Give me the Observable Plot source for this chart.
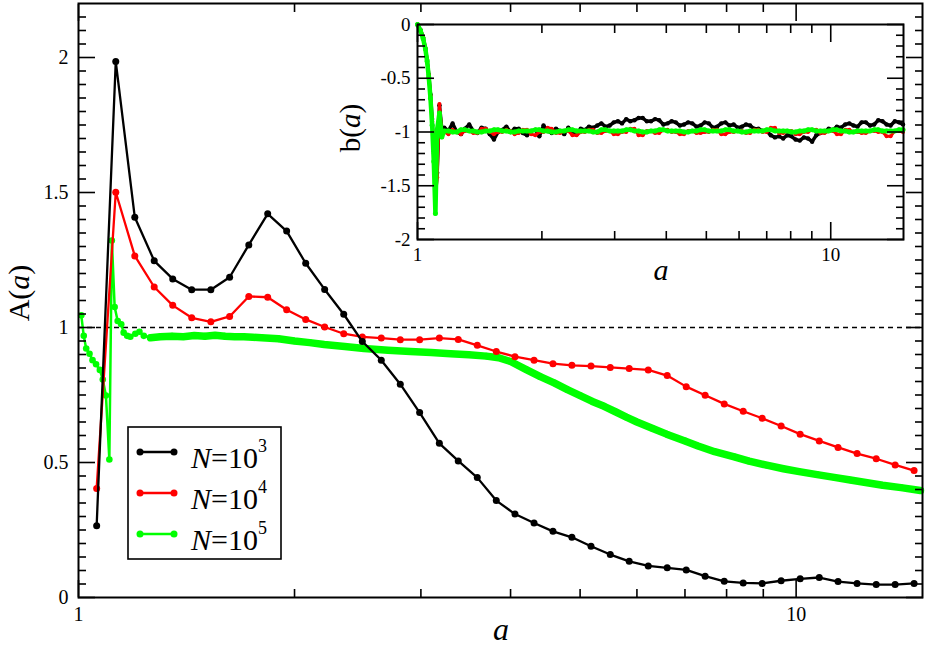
<!DOCTYPE html>
<html>
<head>
<meta charset="utf-8">
<script src="https://cdn.jsdelivr.net/npm/d3@7"></script>
<script src="https://cdn.jsdelivr.net/npm/@observablehq/plot@0.6"></script>
<style>
  body { margin: 0; background: #fff; }
  #wrap { position: relative; width: 928px; height: 649px; font-family: 'Times New Roman', Times, 'Liberation Serif', Tinos, 'Noto Serif', 'DejaVu Serif', FreeSerif, serif; }
  #wrap svg { position: absolute; overflow: visible; }
  #wrap svg text, #wrap svg tspan { font-family: 'Times New Roman', Times, 'Liberation Serif', Tinos, 'Noto Serif', 'DejaVu Serif', FreeSerif, serif !important; }
</style>
</head>
<body>
<div id="wrap"></div>
<script>
// ---------- main chart data: A(a) ----------
const aGrid = [1.06, 1.127, 1.198, 1.275, 1.353, 1.438, 1.529, 1.624, 1.727, 1.835, 1.95, 2.073, 2.203, 2.342, 2.486, 2.642, 2.808, 2.988, 3.183, 3.382, 3.595, 3.821, 4.057, 4.313, 4.583, 4.87, 5.178, 5.508, 5.853, 6.222, 6.612, 7.028, 7.468, 7.94, 8.438, 8.968, 9.53, 10.13, 10.77, 11.44, 12.16, 12.93, 13.74, 14.6];
const blackA = [0.266, 1.985, 1.408, 1.247, 1.18, 1.14, 1.14, 1.186, 1.306, 1.421, 1.357, 1.238, 1.141, 1.049, 0.948, 0.879, 0.79, 0.685, 0.571, 0.506, 0.444, 0.359, 0.309, 0.276, 0.245, 0.223, 0.19, 0.159, 0.134, 0.117, 0.11, 0.102, 0.079, 0.06, 0.054, 0.052, 0.062, 0.069, 0.074, 0.059, 0.052, 0.048, 0.048, 0.052];
const redA = [0.404, 1.501, 1.265, 1.15, 1.082, 1.036, 1.021, 1.041, 1.115, 1.112, 1.066, 1.03, 1.002, 0.977, 0.965, 0.961, 0.955, 0.955, 0.961, 0.956, 0.934, 0.911, 0.892, 0.879, 0.866, 0.86, 0.857, 0.852, 0.848, 0.843, 0.822, 0.781, 0.749, 0.717, 0.69, 0.664, 0.635, 0.605, 0.58, 0.556, 0.533, 0.514, 0.491, 0.47];
const greenX = [1.009, 1.017, 1.025, 1.036, 1.046, 1.058, 1.071, 1.081, 1.092, 1.104, 1.113, 1.123, 1.134, 1.147, 1.156, 1.169, 1.181, 1.2, 1.216, 1.233, 1.26, 1.3, 1.35, 1.4, 1.45, 1.5, 1.55, 1.6, 1.65, 1.7, 1.75, 1.8, 1.9, 2.0, 2.1, 2.2, 2.35, 2.5, 2.7, 2.9, 3.1, 3.3, 3.5, 3.7, 3.85, 4.0, 4.2, 4.4, 4.6, 4.8, 5.0, 5.2, 5.4, 5.6, 5.8, 6.0, 6.3, 6.6, 7.0, 7.3, 7.7, 8.2, 8.6, 9.1, 9.6, 10.1, 10.7, 11.3, 11.9, 12.5, 13.2, 14.0, 14.9];
const greenA = [1.045, 0.969, 0.922, 0.903, 0.879, 0.864, 0.843, 0.807, 0.748, 0.511, 1.322, 1.076, 1.024, 1.012, 0.981, 0.969, 0.966, 0.977, 0.984, 0.969, 0.962, 0.966, 0.968, 0.966, 0.97, 0.968, 0.971, 0.968, 0.966, 0.966, 0.964, 0.962, 0.958, 0.95, 0.944, 0.937, 0.93, 0.922, 0.916, 0.911, 0.907, 0.903, 0.899, 0.894, 0.888, 0.874, 0.845, 0.818, 0.795, 0.77, 0.748, 0.726, 0.708, 0.688, 0.668, 0.65, 0.627, 0.605, 0.58, 0.561, 0.54, 0.521, 0.505, 0.49, 0.477, 0.466, 0.455, 0.445, 0.435, 0.426, 0.416, 0.407, 0.396];

// ---------- inset data: b(a) ----------
const insetEarlyX = [1.0, 1.017, 1.032, 1.045, 1.055, 1.065, 1.075, 1.085, 1.095, 1.105, 1.116, 1.13, 1.145];
const blackEarly = [0, -0.05, -0.12, -0.22, -0.33, -0.47, -0.65, -0.88, -1.18, -1.6, -1.38, -0.75, -0.97];
const redEarly   = [0, -0.05, -0.12, -0.22, -0.33, -0.47, -0.66, -0.9, -1.2, -1.6, -1.42, -0.74, -1.0];
const greenEarly = [0, -0.058, -0.132, -0.229, -0.341, -0.493, -0.686, -0.937, -1.275, -1.758, -0.976, -0.824, -1.047];
const insetX = [1.161, 1.188, 1.216, 1.245, 1.274, 1.303, 1.334, 1.365, 1.396, 1.429, 1.462, 1.496, 1.531, 1.567, 1.603, 1.641, 1.679, 1.718, 1.758, 1.799, 1.841, 1.884, 1.928, 1.972, 2.018, 2.065, 2.113, 2.163, 2.213, 2.265, 2.317, 2.371, 2.427, 2.483, 2.541, 2.6, 2.661, 2.723, 2.786, 2.851, 2.917, 2.985, 3.055, 3.126, 3.199, 3.273, 3.35, 3.428, 3.508, 3.589, 3.673, 3.758, 3.846, 3.936, 4.027, 4.121, 4.217, 4.315, 4.416, 4.519, 4.624, 4.732, 4.842, 4.955, 5.07, 5.188, 5.309, 5.433, 5.559, 5.689, 5.821, 5.957, 6.095, 6.237, 6.383, 6.531, 6.683, 6.839, 6.998, 7.161, 7.328, 7.499, 7.674, 7.852, 8.035, 8.222, 8.414, 8.61, 8.81, 9.016, 9.226, 9.441, 9.661, 9.886, 10.12, 10.35, 10.59, 10.84, 11.09, 11.35, 11.61, 11.88, 12.16, 12.45, 12.74, 13.03, 13.34, 13.65, 13.96, 14.29, 14.62, 14.96];
const blackB = [-0.96, -0.99, -0.92, -1.0, -1.02, -0.97, -0.93, -0.99, -1.01, -0.96, -0.97, -1.02, -1.07, -1.0, -0.98, -0.95, -1.0, -0.97, -0.97, -1.01, -1.03, -0.99, -0.98, -1.04, -0.94, -0.99, -1.01, -0.97, -0.99, -1.02, -0.96, -1.0, -1.02, -0.97, -0.98, -0.95, -0.96, -0.94, -0.92, -0.95, -0.94, -0.91, -0.9, -0.92, -0.88, -0.9, -0.89, -0.87, -0.87, -0.9, -0.9, -0.88, -0.89, -0.93, -0.92, -0.9, -0.91, -0.94, -0.93, -0.91, -0.92, -0.95, -0.94, -0.91, -0.92, -0.96, -0.95, -0.92, -0.91, -0.94, -0.93, -0.96, -0.95, -0.93, -0.94, -0.97, -0.97, -0.99, -0.99, -1.03, -1.05, -1.04, -1.06, -1.03, -1.04, -1.07, -1.08, -1.05, -1.06, -1.09, -1.03, -1.01, -1.0, -0.97, -0.98, -0.95, -0.96, -0.93, -0.92, -0.94, -0.95, -0.91, -0.91, -0.94, -0.93, -0.89, -0.9, -0.93, -0.94, -0.9, -0.91, -0.93];
const redB = [-1.0, -1.02, -0.98, -1.0, -1.02, -0.99, -0.99, -1.01, -1.01, -0.97, -0.97, -1.0, -1.02, -1.0, -1.0, -0.98, -0.99, -1.02, -1.01, -0.98, -0.98, -1.02, -1.03, -1.0, -1.0, -0.96, -0.97, -1.01, -1.01, -0.99, -0.99, -1.03, -1.03, -1.0, -1.0, -0.98, -0.98, -1.01, -1.01, -0.99, -0.99, -1.02, -1.02, -1.0, -1.0, -0.97, -0.97, -1.03, -1.03, -0.99, -0.99, -1.01, -1.01, -0.98, -0.98, -1.0, -1.0, -1.02, -1.02, -0.99, -0.99, -1.01, -1.01, -1.0, -1.0, -0.98, -0.98, -1.02, -1.02, -1.0, -1.0, -0.99, -0.99, -1.01, -1.01, -0.98, -0.98, -1.0, -1.0, -0.96, -0.96, -1.01, -1.01, -0.99, -0.99, -1.02, -1.02, -1.0, -1.0, -0.98, -0.98, -1.01, -1.01, -0.99, -0.99, -1.02, -1.02, -0.98, -0.98, -1.0, -1.0, -1.01, -1.01, -0.99, -0.99, -1.0, -1.0, -1.04, -1.04, -0.99, -0.99, -1.0];
const greenB = [-0.99, -0.99, -1.0, -1.0, -0.98, -0.98, -0.99, -0.99, -1.0, -1.0, -0.99, -0.99, -0.98, -0.98, -0.99, -0.99, -1.0, -1.0, -0.99, -0.99, -0.99, -0.99, -0.98, -0.98, -0.99, -0.99, -1.0, -1.0, -0.99, -0.99, -0.98, -0.98, -0.99, -0.99, -0.99, -0.99, -1.0, -1.0, -0.98, -0.98, -0.99, -0.99, -0.99, -0.99, -0.98, -0.98, -0.99, -0.99, -1.0, -1.0, -0.99, -0.99, -0.98, -0.98, -0.99, -0.99, -0.99, -0.99, -1.0, -1.0, -0.99, -0.99, -0.98, -0.98, -0.99, -0.99, -0.99, -0.99, -0.98, -0.98, -0.99, -0.99, -1.0, -1.0, -0.99, -0.99, -0.99, -0.99, -0.98, -0.98, -0.99, -0.99, -0.99, -0.99, -1.0, -1.0, -0.99, -0.99, -0.98, -0.98, -0.99, -0.99, -0.99, -0.99, -0.98, -0.98, -0.99, -0.99, -1.0, -1.0, -0.99, -0.99, -0.99, -0.99, -0.98, -0.98, -0.99, -0.99, -0.99, -0.99, -0.98, -0.98];

// ---------- ticks & labels ----------
const xMajor = [1, 10];
const xMinor = [2, 3, 4, 5, 6, 7, 8, 9];
const yMajor = [0, 0.5, 1, 1.5, 2];
const yMinor = d3.range(1, 44).map(i => +(i * 0.05).toFixed(2)).filter(v => Math.abs(v * 2 - Math.round(v * 2)) > 1e-9);
const bMajor = [-2, -1.5, -1, -0.5, 0];
const bMinor = d3.range(-19, 0).map(i => +(i * 0.1).toFixed(1)).filter(v => Math.abs(v * 2 - Math.round(v * 2)) > 1e-9);
const legendExp = ["3", "4", "5"];
const colors = ["#000000", "#ff0000", "#00ff00"];
const FONT = "'Times New Roman', Times, 'Liberation Serif', Tinos, 'Noto Serif', 'DejaVu Serif', FreeSerif, serif";

const rows = (xs, ys) => xs.map((a, i) => ({a, v: ys[i]}));
const K = rows(aGrid, blackA), R = rows(aGrid, redA), G = rows(greenX, greenA);

function frameTicks(xMaj, xMin, yMaj, yMin) {
  const fmtNone = () => "";
  const m = [];
  for (const anchor of ["bottom", "top"]) {
    m.push(Plot.axisX(xMaj, {anchor, tickSize: -17, tickFormat: fmtNone, strokeWidth: 1.6, label: null}));
    m.push(Plot.axisX(xMin, {anchor, tickSize: -8, tickFormat: fmtNone, strokeWidth: 1.6, label: null}));
  }
  for (const anchor of ["left", "right"]) {
    m.push(Plot.axisY(yMaj, {anchor, tickSize: -17, tickFormat: fmtNone, strokeWidth: 1.6, label: null}));
    m.push(Plot.axisY(yMin, {anchor, tickSize: -8, tickFormat: fmtNone, strokeWidth: 1.6, label: null}));
  }
  return m;
}

const wrap = document.getElementById("wrap");

// ---------- main plot ----------
const main = Plot.plot({
  width: 928, height: 649,
  marginLeft: 78, marginRight: 6, marginTop: 3, marginBottom: 52,
  x: {type: "log", domain: [1, 15]},
  y: {domain: [0, 2.2]},
  style: {fontFamily: FONT, fontSize: "20px", background: "transparent", color: "#000"},
  marks: [
    Plot.ruleY([1], {stroke: "#000", strokeWidth: 1.3, strokeDasharray: "5,4"}),
    Plot.line(G.filter(d => d.a >= 1.26), {x: "a", y: "v", stroke: colors[2], strokeWidth: 7.5, strokeLinecap: "round", strokeLinejoin: "round"}),
    Plot.line(G, {x: "a", y: "v", stroke: colors[2], strokeWidth: 2.5}),
    Plot.dot(G, {x: "a", y: "v", r: 3.3, fill: colors[2]}),
    Plot.line(R, {x: "a", y: "v", stroke: colors[1], strokeWidth: 2.3}),
    Plot.dot(R, {x: "a", y: "v", r: 3.5, fill: colors[1]}),
    Plot.line(K, {x: "a", y: "v", stroke: colors[0], strokeWidth: 2.3}),
    Plot.dot(K, {x: "a", y: "v", r: 3.5, fill: colors[0]}),
    ...frameTicks(xMajor, xMinor, yMajor, yMinor),
    Plot.axisX(xMajor, {anchor: "bottom", tickSize: 0, tickPadding: 9, tickFormat: d => String(d), fontSize: 20, label: null}),
    Plot.axisY(yMajor, {anchor: "left", tickSize: 0, tickPadding: 10, tickFormat: d => String(d), fontSize: 20, label: null}),
    Plot.frame({stroke: "#000", strokeWidth: 2})
  ]
});
main.style.left = "0px"; main.style.top = "0px";
wrap.appendChild(main);

const ms = d3.select(main);
ms.append("text").attr("transform", "translate(29,293) rotate(-90)")
  .attr("text-anchor", "middle").attr("font-size", 30).attr("fill", "#000")
  .call(t => { t.append("tspan").text("A("); t.append("tspan").attr("font-style", "italic").text("a"); t.append("tspan").text(")"); });
ms.append("text").attr("x", 501).attr("y", 640).attr("text-anchor", "middle")
  .attr("font-size", 32).attr("font-style", "italic").attr("fill", "#000").text("a");

// ---------- inset plot ----------
const IK = rows(insetEarlyX.concat(insetX), blackEarly.concat(blackB));
const IR = rows(insetEarlyX.concat(insetX), redEarly.concat(redB));
const IG = rows(insetEarlyX.concat(insetX), greenEarly.concat(greenB));
const inset = Plot.plot({
  width: 578, height: 280,
  marginLeft: 87, marginRight: 5, marginTop: 16, marginBottom: 49,
  x: {type: "log", domain: [1, 15]},
  y: {domain: [-2, 0]},
  style: {fontFamily: FONT, fontSize: "19px", background: "transparent", color: "#000"},
  marks: [
    Plot.line(IK, {x: "a", y: "v", stroke: colors[0], strokeWidth: 3.5}),
    Plot.dot(IK, {x: "a", y: "v", r: 2.2, fill: colors[0]}),
    Plot.line(IR, {x: "a", y: "v", stroke: colors[1], strokeWidth: 3}),
    Plot.dot(IR, {x: "a", y: "v", r: 2, fill: colors[1]}),
    Plot.line(IG, {x: "a", y: "v", stroke: colors[2], strokeWidth: 4.5}),
    Plot.dot(IG, {x: "a", y: "v", r: 2.5, fill: colors[2]}),
    ...frameTicks(xMajor, xMinor, bMajor, bMinor),
    Plot.axisX(xMajor, {anchor: "bottom", tickSize: 0, tickPadding: 8, tickFormat: d => String(d), fontSize: 19, label: null}),
    Plot.axisY(bMajor, {anchor: "left", tickSize: 0, tickPadding: 7, tickFormat: d => String(d), fontSize: 19, label: null}),
    Plot.frame({stroke: "#000", strokeWidth: 2})
  ]
});
inset.style.left = "330px"; inset.style.top = "8px";
wrap.appendChild(inset);
const is = d3.select(inset);
is.append("text").attr("transform", "translate(30,120) rotate(-90)")
  .attr("text-anchor", "middle").attr("font-size", 29).attr("fill", "#000")
  .call(t => { t.append("tspan").text("b("); t.append("tspan").attr("font-style", "italic").text("a"); t.append("tspan").text(")"); });
is.append("text").attr("x", 331).attr("y", 272).attr("text-anchor", "middle")
  .attr("font-size", 30).attr("font-style", "italic").attr("fill", "#000").text("a");

// ---------- legend ----------
const leg = d3.create("svg").attr("width", 156).attr("height", 136)
  .style("left", "127px").style("top", "426px").attr("font-family", FONT);
leg.append("rect").attr("x", 1).attr("y", 1).attr("width", 153).attr("height", 132)
  .attr("fill", "#fff").attr("stroke", "#000").attr("stroke-width", 1.6);
legendExp.forEach((e, i) => {
  const y = 26 + i * 41;
  const g = leg.append("g");
  g.append("line").attr("x1", 13).attr("x2", 47).attr("y1", y).attr("y2", y).attr("stroke", colors[i]).attr("stroke-width", 2.3);
  g.append("circle").attr("cx", 13).attr("cy", y).attr("r", 3.5).attr("fill", colors[i]);
  g.append("circle").attr("cx", 47).attr("cy", y).attr("r", 3.5).attr("fill", colors[i]);
  const t = g.append("text").attr("x", 64).attr("y", y + 16).attr("font-size", 30).attr("fill", "#000");
  t.append("tspan").attr("font-style", "italic").text("N");
  t.append("tspan").text("=10");
  t.append("tspan").attr("font-size", 18).attr("dy", -16).text(e);
});
wrap.appendChild(leg.node());
</script>
</body>
</html>
